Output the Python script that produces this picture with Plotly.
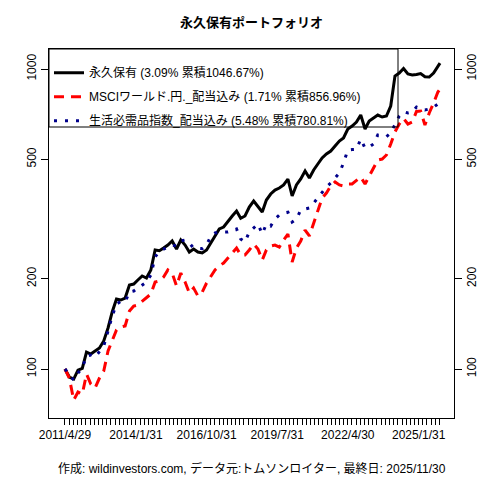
import calendar
import datetime as dt
import plotly.graph_objects as go

# ---- data (bi-monthly month-end samples) ----
start_year, start_month = 2011, 4
n_regular = 88
dates = []
for k in range(n_regular):
    mi = start_month - 1 + 2 * k
    y, m = start_year + mi // 12, mi % 12 + 1
    dates.append(dt.date(y, m, calendar.monthrange(y, m)[1]).isoformat())
dates[0] = "2011-04-29"
dates.append("2025-11-30")

permanent = [100.0, 94.0, 92.6, 99.2, 100.5, 113.9, 112.2, 114.8, 117.5, 124.0, 137.0,
             154.9, 171.1, 169.8, 172.4, 190.5, 192.0, 198.0, 204.2, 201.1, 213.8,
             249.3, 248.0, 253.1, 259.0, 267.1, 251.2, 269.2, 259.0, 245.5, 251.2,
             245.5, 243.6, 249.3, 263.0, 275.4, 292.9, 297.4, 309.0, 323.6, 336.3,
             318.0, 323.6, 346.7, 363.1, 349.4, 333.7, 365.9, 383.1, 395.0, 401.2,
             410.6, 429.9, 377.3, 410.6, 429.9, 457.1, 433.2, 460.7, 482.4, 505.1,
             520.8, 532.9, 553.7, 575.4, 588.8, 631.0, 645.7, 665.8, 702.4, 631.0,
             670.9, 686.6, 702.4, 691.8, 697.1, 752.7, 947.7, 969.8, 1004.0, 962.4,
             955.0, 958.7, 966.0, 942.7, 940.5, 969.8, 1015.0, 1046.67]

msci_world = [100.0, 93.3, 78.8, 83.8, 82.5, 96.2, 89.1, 86.4, 93.3, 98.5, 114.8,
              124.9, 134.9, 138.0, 139.1, 156.1, 162.2, 163.5, 168.5, 172.4, 177.8,
              195.0, 196.5, 202.6, 213.8, 208.9, 189.1, 208.9, 195.0, 179.2, 186.2,
              175.2, 180.6, 193.5, 204.2, 213.8, 220.5, 225.6, 234.4, 243.6, 253.1,
              239.9, 239.9, 249.3, 261.0, 251.2, 230.9, 249.3, 257.0, 259.0, 255.0,
              269.2, 281.8, 227.3, 253.1, 267.1, 290.6, 277.6, 306.7, 333.7, 371.5,
              386.1, 407.4, 420.1, 410.6, 407.4, 413.7, 413.7, 426.6, 436.5, 413.7,
              439.8, 464.2, 497.4, 501.2, 516.8, 562.3, 616.6, 655.6, 683.9, 655.6,
              665.8, 721.7, 724.4, 650.6, 713.5, 770.2, 838.0, 856.96]

staples = [100.0, 95.5, 91.9, 97.0, 100.8, 110.5, 111.3, 109.6, 113.9, 119.3, 133.9,
           150.2, 164.7, 167.9, 167.3, 180.6, 182.0, 186.2, 190.5, 195.0, 205.7,
           236.2, 247.4, 251.2, 255.0, 259.0, 257.0, 267.1, 269.2, 263.0, 253.1,
           253.1, 252.0, 259.0, 277.6, 284.0, 286.2, 286.0, 286.0, 288.4, 292.9,
           271.3, 265.1, 286.2, 295.1, 304.4, 281.8, 304.4, 299.7, 316.2, 326.2,
           331.1, 333.0, 309.0, 316.2, 338.8, 341.5, 344.1, 357.5, 371.5, 389.0,
           404.3, 416.9, 433.2, 450.0, 486.0, 537.0, 539.0, 540.0, 584.3, 545.3,
           549.5, 562.3, 602.6, 598.0, 595.0, 611.8, 650.6, 697.1, 720.5, 713.5,
           718.9, 747.0, 735.6, 730.0, 735.6, 747.0, 764.3, 780.81]

series_names = ["永久保有 (3.09% 累積1046.67%)",
                "MSCIワールド.円._配当込み (1.71% 累積856.96%)",
                "生活必需品指数_配当込み (5.48% 累積780.81%)"]

label_dates = ["2011-04-29", "2014-01-31", "2016-10-31", "2019-07-31", "2022-04-30", "2025-01-31"]
label_texts = ["2011/4/29", "2014/1/31", "2016/10/31", "2019/7/31", "2022/4/30", "2025/1/31"]
y_ticks = [100, 200, 500, 1000]
title_text = "永久保有ポートフォリオ"
caption_text = "作成: wildinvestors.com, データ元:トムソンロイター, 最終日: 2025/11/30"

# ---- axis tick positions (17 sub-ticks per labelled interval) ----
ld = [dt.datetime.fromisoformat(d) for d in label_dates]
tickvals, ticktext = [], []
for i in range(len(ld) - 1):
    step = (ld[i + 1] - ld[i]) / 17
    for k in range(17):
        tickvals.append(ld[i] + step * k)
        ticktext.append(label_texts[i] if k == 0 else "")
avg_step = (ld[-1] - ld[0]) / (17 * (len(ld) - 1))
for k in range(6):
    tickvals.append(ld[-1] + avg_step * k)
    ticktext.append(label_texts[-1] if k == 0 else "")

FONT = "Liberation Sans, Arial, Noto Sans CJK JP, sans-serif"

W = H = 480
PL, PR, PT, PB = 49, 26, 49, 62
PW = W - PL - PR
PH = H - PT - PB

fig = go.Figure()
styles = [dict(color="black", width=3),
          dict(color="#FF0000", width=3, dash="10px,7px"),
          dict(color="#00008B", width=3, dash="3px,8px")]
for name, vals, st, grp in zip(series_names, [permanent, msci_world, staples], styles, ["a", "b", "c"]):
    fig.add_trace(go.Scatter(x=dates, y=vals, mode="lines", name=name, line=st,
                             legendgroup=grp, hoverinfo="skip"))
# invisible helper trace so the right-hand axis is drawn
fig.add_trace(go.Scatter(x=dates, y=permanent, yaxis="y2", mode="lines",
                         line=dict(color="rgba(0,0,0,0)"), showlegend=False, hoverinfo="skip"))

yrange = [1.8367, 3.0667]
common_y = dict(type="log", range=yrange, tickvals=y_ticks, ticktext=[str(v) for v in y_ticks],
                tickangle=-90, ticks="outside", ticklen=7, tickwidth=1, tickcolor="black",
                showgrid=False, zeroline=False, automargin=False,
                tickfont=dict(size=12, color="black", family=FONT))

fig.update_layout(
    width=W, height=H, autosize=False,
    margin=dict(l=PL, r=PR, t=PT, b=PB, autoexpand=False),
    paper_bgcolor="white", plot_bgcolor="white",
    font=dict(family=FONT, color="black", size=12),
    title=dict(text="<b>" + title_text + "</b>", x=0.5, xref="paper", xanchor="center",
               y=1 - 22 / H, yref="container", yanchor="middle", automargin=False,
               font=dict(size=13, color="black", family=FONT)),
    xaxis=dict(type="date", range=["2010-09-14", "2026-06-17"], tickmode="array",
               tickvals=tickvals, ticktext=ticktext, tickangle=0, automargin=False,
               ticks="outside", ticklen=6, tickwidth=1, tickcolor="black",
               showline=True, linecolor="black", linewidth=1, mirror=True,
               showgrid=False, zeroline=False,
               tickfont=dict(size=12, color="black", family=FONT)),
    yaxis=dict(showline=True, linecolor="black", linewidth=1, mirror=True, **common_y),
    yaxis2=dict(overlaying="y", side="right", showline=False, **common_y),
    showlegend=True,
    legend=dict(x=0.0, y=0.975, xanchor="left", yanchor="top", bgcolor="rgba(0,0,0,0)",
                borderwidth=0, tracegroupgap=5, font=dict(size=12, color="black", family=FONT)),
    shapes=[dict(type="rect", xref="paper", yref="paper", x0=0, x1=(398 - 49) / PW,
                 y0=(418 - 127) / PH, y1=1, line=dict(color="black", width=1),
                 fillcolor="rgba(0,0,0,0)", layer="above")],
    annotations=[dict(text=caption_text, x=0.5, xref="paper", y=-(468 - 418) / PH, yref="paper",
                      xanchor="center", yanchor="middle", showarrow=False,
                      font=dict(size=12, color="black", family=FONT))],
)

fig.write_html("out.html", config={"displayModeBar": False, "responsive": False},
               post_script="document.body.style.margin='0';document.body.style.overflow='hidden';")
